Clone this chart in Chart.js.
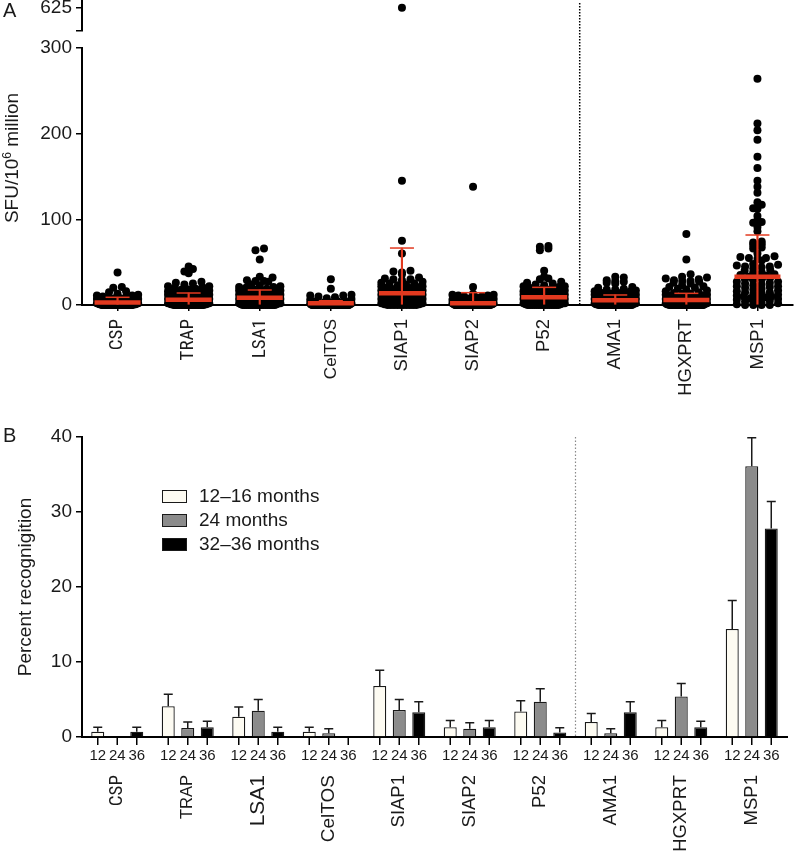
<!DOCTYPE html>
<html><head><meta charset="utf-8">
<script src="https://cdn.jsdelivr.net/npm/chart.js@4.4.1/dist/chart.umd.min.js"></script>
<style>
html,body{margin:0;padding:0;background:#fff;}
body{width:795px;height:853px;position:relative;overflow:hidden;font-family:"Liberation Sans",Arial,sans-serif;color:#1a1a1a;}
#cA{position:absolute;left:0;top:0;}
#cB{position:absolute;left:0;top:420px;}
.panel{position:absolute;left:3px;font-size:20px;line-height:20px;}
#ytA{position:absolute;left:12px;top:158px;transform:translate(-50%,-50%) rotate(-90deg);white-space:nowrap;font-size:19px;line-height:22px;}
#ytA sup{font-size:12px;vertical-align:7px;line-height:0;}
.leg{position:absolute;left:162px;height:13px;}
.leg .sw{position:absolute;left:0;top:0;width:25px;height:13px;box-sizing:border-box;border:1px solid #1a1a1a;}
.leg .tx{position:absolute;left:37px;top:-5px;font-size:19px;line-height:22px;white-space:nowrap;}
</style></head>
<body>
<canvas id="cA" width="795" height="420"></canvas>
<canvas id="cB" width="795" height="433"></canvas>
<div class="panel" style="top:0px;">A</div>
<div class="panel" style="top:425px;">B</div>
<div id="ytA">SFU/10<sup>6</sup> million</div>
<div id="legend"></div>
<script>
// ---------- Panel A data ----------
const antigens = ['CSP','TRAP','LSA1','CelTOS','SIAP1','SIAP2','P52','AMA1','HGXPRT','MSP1'];
const sfuCSP = [38,21,20,16,15,13,12,11,11,10,10,9,8,8,7,7,6,6,6,5,5,5,4,4,4,4,3,3,3,3,3,2,2,2,2,2,2,1,1,1,1,1,1,1,0,0,0,0,0,0,0,0,0,0,0,0,0,0,0,0,0,0,0,0,0,0,0,0,0,0,0,0,0,0,0,0,0,0,0,0];
const sfuTRAP = [45,42,39,37,27,26,25,24,22,22,21,20,19,18,18,17,16,16,15,15,14,14,13,13,12,12,12,11,11,10,10,10,9,9,9,8,8,8,7,7,7,6,6,6,5,5,5,5,4,4,4,4,3,3,3,3,2,2,2,2,1,1,1,1,0,0,0,0,0,0,0,0,0,0,0,0,0,0,0,0,0,0,0,0,0];
const sfuLSA1 = [66,64,53,33,32,29,28,28,27,24,23,22,21,21,20,19,19,18,17,17,16,16,15,15,14,14,13,13,12,12,12,11,11,10,10,10,9,9,9,8,8,8,7,7,7,6,6,6,5,5,5,4,4,4,3,3,3,2,2,2,1,1,0,0,0,0,0,0,0,0,0,0,0,0,0,0,0,0,0,0];
const sfuCelTOS = [30,19,12,11,11,10,9,8,7,6,5,5,4,3,3,2,2,2,1,1,1,1,0,0,0,0,0,0,0,0,0,0,0,0,0,0,0,0,0,0,0,0,0,0,0,0,0,0,0,0,0,0,0,0,0,0,0,0,0,0,0,0,0,0,0,0,0,0,0,0,0,0,0,0,0,0,0];
const sfuSIAP1 = [625,145,75,60,40,39,38,36,32,31,30,30,29,27,26,25,25,24,23,22,22,21,20,20,19,19,18,18,17,17,16,16,15,15,14,14,13,13,12,12,12,11,11,10,10,10,9,9,9,8,8,8,7,7,6,6,5,5,4,4,3,3,2,2,1,1,0,0,0,0,0,0,0,0,0,0];
const sfuSIAP2 = [138,21,13,12,12,11,11,10,10,9,8,7,6,5,5,4,4,3,3,3,2,2,2,2,1,1,1,1,1,0,0,0,0,0,0,0,0,0,0,0,0,0,0,0,0,0,0,0,0,0,0,0,0,0,0,0,0,0,0,0,0,0,0,0,0,0,0,0,0,0,0,0,0,0,0,0,0,0,0];
const sfuP52 = [69,68,66,64,40,33,31,30,27,26,25,24,23,22,22,21,20,20,19,18,18,17,16,16,15,15,14,14,13,13,12,12,12,11,11,11,10,10,10,9,9,9,8,8,8,7,7,7,6,6,6,5,5,5,4,4,4,3,3,3,2,2,2,1,1,0,0,0,0,0,0,0,0,0,0,0,0,0,0,0];
const sfuAMA1 = [33,32,29,28,27,26,25,21,20,19,18,18,17,16,16,15,15,14,14,13,13,12,12,11,11,10,10,9,9,8,8,8,7,7,7,6,6,6,5,5,5,4,4,4,3,3,3,2,2,2,1,1,1,0,0,0,0,0,0,0,0,0,0,0,0,0,0,0,0,0,0,0,0,0,0,0,0,0];
const sfuHGXPRT = [83,53,36,33,32,31,30,29,28,28,27,26,25,23,22,21,20,19,18,17,16,15,14,13,13,12,12,11,11,10,10,9,9,8,8,7,7,6,6,5,5,5,4,4,4,3,3,3,2,2,2,1,1,1,0,0,0,0,0,0,0,0,0,0,0,0,0,0,0,0,0,0,0,0,0,0,0,0,0,0,0,0];
const sfuMSP1 = [264,212,204,193,173,160,145,138,131,120,117,113,112,104,99,97,96,91,86,74,73,71,70,67,66,60,57,56,55,55,54,52,48,47,46,45,45,44,43,41,40,38,38,36,35,34,33,33,32,31,30,29,27,27,26,25,24,23,22,22,21,20,19,18,17,16,15,15,14,13,12,11,10,10,9,8,8,7,6,5,4,3,3,2,1,0,0,0,0];
const meanLine = [3,6,8.6,2,13.6,2,9,5.5,5.8,33];
const sdHigh = [9,14,17.5,5,66.5,14.4,20.6,11.7,13.6,81.7];
const sdLow = [0,0,0,0,0,0,0,0,0,0];
const yTicksA = [0,100,200,300];
const brokenTick = 625;

// ---------- Panel B data ----------
const months = ['12','24','36'];
const legendLabels = ['12–16 months','24 months','32–36 months'];
const pct12 = [0.7,4.1,2.7,0.7,6.8,1.3,3.4,2.0,1.3,14.4];
const pct24 = [0,1.2,3.5,0.5,3.6,1.1,4.7,0.5,5.4,36.1];
const pct36 = [0.7,1.3,0.7,0,3.3,1.3,0.6,3.3,1.3,27.8];
const err12 = [1.3,5.7,4.0,1.3,8.9,2.2,4.85,3.15,2.2,18.2];
const err24 = [null,2.0,5.0,1.1,5.0,1.9,6.45,1.1,7.15,39.9];
const err36 = [1.3,2.1,1.3,null,4.7,2.2,1.25,4.7,2.1,31.4];
const yTicksB = [0,10,20,30,40];

// ---------- styles ----------
const TXT = '#1a1a1a';
const RED = '#e2391f';
const FAM = '"Liberation Sans", Arial, sans-serif';
const CFAM = '"Roboto Condensed", "Liberation Sans", Arial, sans-serif';
const fontReg = {family:FAM, size:19};
const fC19 = {family:CFAM, size:19};
const fL = s => ({family:FAM, size:s});
// label typefaces differ per label in the original figure
const topLabelFonts = [fC19, fC19, fC19, fL(17), fL(18.5), fL(18.5), fL(18.5), fL(18.5), fL(18.5), fL(18.5)];
const bottomLabelFonts = [fC19, fL(16.5), fL(21), fL(19), fL(18.5), fL(18.5), fL(18.5), fL(18.5), fL(18.5), fL(18.5)];
const barFills = ['#fdfbf2','#8b8b8b','#000000'];
Chart.defaults.font.family = FAM;
Chart.defaults.color = TXT;

// ---------- beeswarm layout ----------
const BIN = 5, SPACING = 0.12, MAXHALF = 0.29;
function swarm(values, idx){
  const bins = new Map();
  values.filter(v => v <= 300).forEach(v => {
    const b = Math.round(v / BIN);
    if (!bins.has(b)) bins.set(b, []);
    bins.get(b).push(v);
  });
  const out = [];
  bins.forEach(arr => {
    arr.sort((a,b) => a-b);
    const n = arr.length;
    const sp = n > 1 ? Math.min(SPACING, 2*MAXHALF/(n-1)) : 0;
    const slots = [];
    for (let k=0;k<n;k++) slots.push((k-(n-1)/2)*sp);
    slots.sort((a,b) => Math.abs(a)-Math.abs(b) || a-b);
    arr.forEach((v,k) => out.push({x: idx + slots[k], y: v}));
  });
  return out;
}
const sfuByAntigen = [sfuCSP,sfuTRAP,sfuLSA1,sfuCelTOS,sfuSIAP1,sfuSIAP2,sfuP52,sfuAMA1,sfuHGXPRT,sfuMSP1];
const pointsMain = [], pointsTop = [];
sfuByAntigen.forEach((vals,i) => {
  pointsMain.push(...swarm(vals, i));
  vals.filter(v => v > 300).forEach(v => pointsTop.push({x:i, y:v}));
});

const axisGrid = {drawOnChartArea:false, drawTicks:true, tickLength:6, color:'#000', lineWidth:1.5};
const axisBorder = {color:'#000', width:2};
const fitY = w => s => { s.width = w; s.paddingTop = 0; s.paddingBottom = 0; };
const fitX = h => s => { s.height = h; s.paddingLeft = 0; s.paddingRight = 0; };

const sepA = {id:'sepA', afterDatasetsDraw(chart){
  const {ctx, chartArea, scales:{x}} = chart;
  const px = x.getPixelForValue(6.5);
  ctx.save(); ctx.strokeStyle='#000'; ctx.lineWidth=1.5; ctx.setLineDash([1.5,1.5]);
  ctx.beginPath(); ctx.moveTo(px, chartArea.top+3); ctx.lineTo(px, chartArea.bottom); ctx.stroke(); ctx.restore();
}};

new Chart(document.getElementById('cA'), {
  type:'scatter',
  data:{datasets:[
    {label:'mean', data: meanLine.map((v,i)=>({x:i,y:v})), pointStyle:'line', pointRadius:23, pointBorderWidth:4.5, pointBorderColor:RED, order:0, yAxisID:'y', clip:false},
    {label:'sdCap', data: sdHigh.map((v,i)=>({x:i,y:v})), pointStyle:'line', pointRadius:12, pointBorderWidth:1.5, pointBorderColor:RED, order:1, yAxisID:'y', clip:false},
    {type:'bar', label:'sd', data: sdHigh.map((v,i)=>({x:i,y:[sdLow[i],v]})), backgroundColor:RED, barThickness:1.5, order:2, yAxisID:'y'},
    {label:'SFU', data: pointsMain, pointStyle:'circle', pointRadius:4, pointBorderWidth:0, pointBackgroundColor:'#000', order:3, yAxisID:'y', clip:false},
    {label:'SFU high', data: pointsTop, pointStyle:'circle', pointRadius:4, pointBorderWidth:0, pointBackgroundColor:'#000', order:3, yAxisID:'yTop', clip:false}
  ]},
  options:{
    responsive:false, animation:false, events:[],
    layout:{autoPadding:false, padding:{top:0,right:2,left:0,bottom:0}},
    plugins:{legend:{display:false}, tooltip:{enabled:false}},
    scales:{
      x:{type:'linear', min:-0.5, max:9.5, offset:false,
        afterBuildTicks:s=>{ s.ticks = antigens.map((_,i)=>({value:i})); },
        afterFit:fitX(115),
        ticks:{callback:v=>antigens[v], minRotation:90, maxRotation:90, autoSkip:false, padding:8,
          font:ctx => topLabelFonts[ctx.index] || fL(18.5), color:TXT},
        grid:Object.assign({}, axisGrid, {offset:false}), border:axisBorder},
      y:{type:'linear', position:'left', stack:'sfu', stackWeight:257, min:0, max:300,
        afterBuildTicks:s=>{ s.ticks = yTicksA.map(v=>({value:v})); },
        afterFit:fitY(82),
        ticks:{font:fontReg, color:TXT, padding:4, autoSkip:false},
        grid:axisGrid, border:axisBorder},
      yGap:{type:'linear', position:'left', stack:'sfu', stackWeight:17, min:0, max:1,
        afterFit:fitY(82),
        ticks:{display:false}, grid:{display:false, drawTicks:false}, border:{display:false}},
      yTop:{type:'linear', position:'left', stack:'sfu', stackWeight:31, min:550, max:650,
        afterBuildTicks:s=>{ s.ticks = [{value:550},{value:brokenTick}]; },
        afterFit:fitY(82),
        ticks:{font:fontReg, color:TXT, padding:4, autoSkip:false, callback:v => v===brokenTick ? String(v) : ''},
        grid:axisGrid, border:axisBorder}
    }
  },
  plugins:[sepA]
});

// ---------- Panel B ----------
const errBars = [err12, err24, err36];
const errPlugin = {id:'errBars', afterDatasetsDraw(chart){
  const {ctx, scales:{y}} = chart;
  ctx.save(); ctx.strokeStyle=TXT; ctx.lineWidth=1.5;
  chart.data.datasets.forEach((ds,di) => {
    chart.getDatasetMeta(di).data.forEach((bar,j) => {
      const hi = errBars[di][j];
      if (hi == null) return;
      const py = y.getPixelForValue(hi);
      ctx.beginPath();
      ctx.moveTo(bar.x, bar.y); ctx.lineTo(bar.x, py);
      ctx.moveTo(bar.x-4.5, py); ctx.lineTo(bar.x+4.5, py);
      ctx.stroke();
    });
  });
  ctx.restore();
}};
const subLabelPlugin = {id:'subLabels', afterDatasetsDraw(chart){
  const {ctx, scales:{x}} = chart;
  ctx.save(); ctx.strokeStyle='#000'; ctx.lineWidth=1.5; ctx.fillStyle=TXT;
  ctx.font = '15px ' + FAM;
  ctx.textAlign='center'; ctx.textBaseline='middle';
  chart.data.datasets.forEach((ds,di) => {
    chart.getDatasetMeta(di).data.forEach(bar => {
      ctx.beginPath(); ctx.moveTo(bar.x, x.top); ctx.lineTo(bar.x, x.top+8); ctx.stroke();
      ctx.fillText(months[di], bar.x, x.top+19);
    });
  });
  ctx.restore();
}};
const sepB = {id:'sepB', afterDatasetsDraw(chart){
  const {ctx, chartArea, scales:{x}} = chart;
  const px = (x.getPixelForValue(6) + x.getPixelForValue(7)) / 2;
  ctx.save(); ctx.strokeStyle='#8a8a8a'; ctx.lineWidth=1.2; ctx.setLineDash([1.5,2]);
  ctx.beginPath(); ctx.moveTo(px, chartArea.top); ctx.lineTo(px, chartArea.bottom); ctx.stroke(); ctx.restore();
}};

new Chart(document.getElementById('cB'), {
  type:'bar',
  data:{labels:antigens, datasets:[pct12,pct24,pct36].map((d,i)=>({
    label:legendLabels[i], data:d, backgroundColor:barFills[i], borderColor:TXT, borderWidth:1.3,
    categoryPercentage:0.83, barPercentage:0.667
  }))},
  options:{
    responsive:false, animation:false, events:[],
    layout:{autoPadding:false, padding:{top:17,right:8,left:0,bottom:0}},
    plugins:{legend:{display:false}, tooltip:{enabled:false}},
    scales:{
      x:{afterFit:fitX(116),
        ticks:{minRotation:90, maxRotation:90, autoSkip:false, padding:38, color:TXT,
          font:ctx => bottomLabelFonts[ctx.index] || fL(18.5)},
        grid:{drawOnChartArea:false, drawTicks:false}, border:axisBorder},
      y:{min:0, max:40,
        afterBuildTicks:s=>{ s.ticks = yTicksB.map(v=>({value:v})); },
        afterFit:fitY(82),
        title:{display:true, text:'Percent recognigition', font:{family:FAM, size:19}, color:TXT, padding:{top:14,bottom:0}},
        ticks:{font:fontReg, color:TXT, padding:4},
        grid:axisGrid, border:axisBorder}
    }
  },
  plugins:[errPlugin, subLabelPlugin, sepB]
});

// ---------- legend (HTML) ----------
const legTops = [490, 514, 538];
const legEl = document.getElementById('legend');
legendLabels.forEach((t,i) => {
  const d = document.createElement('div');
  d.className = 'leg'; d.style.top = legTops[i] + 'px';
  d.innerHTML = '<span class="sw" style="background:' + barFills[i] + '"></span><span class="tx"></span>';
  d.querySelector('.tx').textContent = t;
  legEl.appendChild(d);
});
</script>
</body></html>
